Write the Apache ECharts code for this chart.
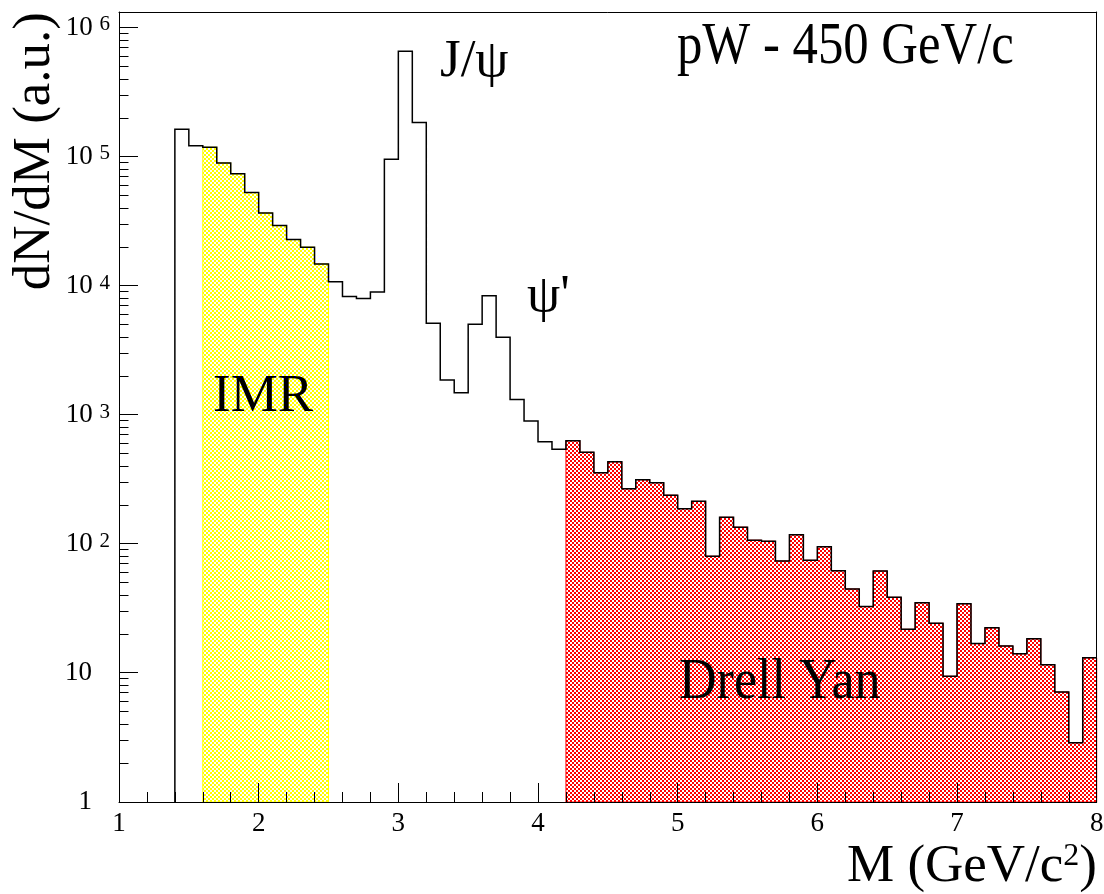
<!DOCTYPE html>
<html>
<head>
<meta charset="utf-8">
<script src="https://cdn.jsdelivr.net/npm/echarts@6/dist/echarts.min.js"></script>
<style>
  html, body { margin: 0; padding: 0; background: #fff; }
  #chart { width: 1104px; height: 894px; }
</style>
</head>
<body>
<div id="chart"></div>
<script>
// Dimuon invariant-mass spectrum, pW at 450 GeV/c (bins of 0.1 GeV/c^2)
const binWidth = 0.1;
const firstBinEdge = 1.4;
const counts = [
  164000, 122000, 119000, 90000, 74000, 53000, 36800, 29400, 22900, 20000,   // 1.4 - 2.4
  14800, 10800, 8300, 8000, 9000, 96000, 660000, 185000, 5140, 1870,          // 2.4 - 3.4
  1490, 5050, 8400, 4000, 1320, 900, 620, 542, 632, 514,                      // 3.4 - 4.4
  357, 434, 268, 315, 299, 239, 188, 214, 80.4, 161,                           // 4.4 - 5.4
  135, 107, 105, 73.8, 118, 74.7, 95.3, 62.1, 44.8, 32.7,                      // 5.4 - 6.4
  61.8, 38.6, 21.8, 35.1, 24.3, 9.43, 34.4, 16.9, 22.4, 16.2,                  // 6.4 - 7.4
  14.1, 18.4, 11.6, 7.12, 2.88, 13.1                                           // 7.4 - 8.0
];
// Mass windows that are shaded
const imrRange = [1.6, 2.5];
const drellYanRange = [4.2, 8.0];

// Axis ticks
const xTicks = [1, 2, 3, 4, 5, 6, 7, 8];
const yDecades = [1, 10, 100, 1000, 10000, 100000, 1000000];
const yMinorSteps = [2, 3, 4, 5, 6, 7, 8, 9];

const X_MIN = 1, X_MAX = 8, Y_MIN = 1, Y_MAX = 1.33e6;
const SERIF = '"Liberation Serif", "Times New Roman", Times, serif';

function binEdge(i) {
  return Math.round((firstBinEdge + i * binWidth) * 1000) / 1000;
}

// Fine hatch fill: 2-px checker of colour and white on a 4-px period
function hatchPattern(color) {
  const c = document.createElement('canvas');
  c.width = 4; c.height = 4;
  const g = c.getContext('2d');
  g.fillStyle = '#ffffff';
  g.fillRect(0, 0, 4, 4);
  g.fillStyle = color;
  g.fillRect(2, 0, 2, 2);
  g.fillRect(0, 2, 2, 2);
  return { image: c, repeat: 'repeat' };
}

function regionSeries(range, stroke, fill) {
  return {
    type: 'custom',
    coordinateSystem: 'cartesian2d',
    silent: true,
    z: 2,
    data: [range],
    renderItem(params, api) {
      const lo = api.value(0), hi = api.value(1);
      const pts = [api.coord([lo, Y_MIN])];
      counts.forEach((v, i) => {
        const a = binEdge(i), b = binEdge(i + 1);
        if (a < lo - 1e-6 || b > hi + 1e-6) return;
        pts.push(api.coord([a, v]), api.coord([b, v]));
      });
      pts.push(api.coord([hi, Y_MIN]));
      return {
        type: 'polygon',
        shape: { points: pts },
        style: { fill: fill, stroke: stroke, lineWidth: 1 }
      };
    }
  };
}

const outlineSeries = {
  type: 'custom',
  coordinateSystem: 'cartesian2d',
  silent: true,
  z: 3,
  data: [[firstBinEdge, Y_MIN]],
  renderItem(params, api) {
    const pts = [api.coord([api.value(0), api.value(1)])];
    counts.forEach((v, i) => {
      pts.push(api.coord([binEdge(i), v]), api.coord([binEdge(i + 1), v]));
    });
    return {
      type: 'polyline',
      shape: { points: pts },
      style: { stroke: '#000', lineWidth: 1.5, fill: 'none', lineJoin: 'miter' }
    };
  }
};

// Major and minor ticks of the logarithmic y axis (drawn inward)
const yTickData = [];
yDecades.forEach((d, k) => {
  yTickData.push([X_MIN, d, 1]);
  if (k < yDecades.length - 1) yMinorSteps.forEach(m => yTickData.push([X_MIN, d * m, 0]));
});
const yTickSeries = {
  type: 'custom',
  coordinateSystem: 'cartesian2d',
  silent: true,
  z: 6,
  data: yTickData,
  renderItem(params, api) {
    const p = api.coord([api.value(0), api.value(1)]);
    const len = api.value(2) ? 19 : 9.5;
    const y = Math.round(p[1] - 0.5) + 0.5;
    return {
      type: 'line',
      shape: { x1: p[0], y1: y, x2: p[0] + len, y2: y },
      style: { stroke: '#000', lineWidth: 1 }
    };
  }
};

const chart = echarts.init(document.getElementById('chart'), null, { renderer: 'canvas' });

chart.setOption({
  animation: false,
  backgroundColor: '#fff',
  grid: {
    left: 119, right: 7.3, top: 12, bottom: 92,
    containLabel: false, outerBoundsMode: 'none', show: false
  },
  xAxis: [{
    type: 'value', position: 'bottom', min: X_MIN, max: X_MAX, interval: 1, z: 5,
    axisLine: { onZero: false, lineStyle: { color: '#000', width: 1 } },
    axisTick: { inside: true, length: 19, lineStyle: { color: '#000', width: 1 } },
    minorTick: { show: true, splitNumber: 5, length: 10, lineStyle: { color: '#000', width: 1 } },
    splitLine: { show: false },
    axisLabel: {
      margin: 8, color: '#000', fontFamily: SERIF, fontSize: 27,
      formatter: v => xTicks.includes(Math.round(v)) ? String(Math.round(v)) : ''
    }
  }, {
    type: 'value', position: 'top', min: X_MIN, max: X_MAX, z: 5,
    axisLine: { onZero: false, lineStyle: { color: '#000', width: 1 } },
    axisTick: { show: false }, axisLabel: { show: false }, splitLine: { show: false }
  }],
  yAxis: [{
    type: 'log', logBase: 10, min: Y_MIN, max: Y_MAX, position: 'left', z: 5,
    axisLine: { onZero: false, lineStyle: { color: '#000', width: 1 } },
    axisTick: { show: false },
    minorTick: { show: false },
    splitLine: { show: false },
    axisLabel: {
      margin: 9, color: '#000', fontFamily: SERIF, fontSize: 27,
      formatter(v) {
        const e = Math.log10(v), r = Math.round(e);
        if (Math.abs(e - r) > 1e-6 || !yDecades.includes(Math.pow(10, r))) return '';
        if (r === 0) return '{p|1}';
        if (r === 1) return '{p|10}';
        return '{b|10 }{s|' + r + '}';
      },
      rich: {
        p: { fontFamily: SERIF, fontSize: 27, lineHeight: 27, color: '#000', padding: [0, 18, 0, 0] },
        b: { fontFamily: SERIF, fontSize: 27, lineHeight: 27, color: '#000' },
        s: { fontFamily: SERIF, fontSize: 21, lineHeight: 7, color: '#000', verticalAlign: 'top' }
      }
    }
  }, {
    type: 'value', position: 'right', min: 0, max: 1, z: 5,
    axisLine: { onZero: false, lineStyle: { color: '#000', width: 1 } },
    axisTick: { show: false }, axisLabel: { show: false }, splitLine: { show: false }
  }],
  series: [
    regionSeries(imrRange, '#ffff00', hatchPattern('#ffff00')),
    regionSeries(drellYanRange, '#ff0000', hatchPattern('#ff0000')),
    outlineSeries,
    yTickSeries
  ],
  graphic: [
    { type: 'text', x: 440, y: 62, z: 10, silent: true,
      style: { text: 'J/ψ', font: '53px ' + SERIF, fill: '#000', align: 'left', verticalAlign: 'middle' } },
    { type: 'text', x: 527, y: 297, z: 10, silent: true,
      style: { text: "ψ'", font: '53px ' + SERIF, fill: '#000', align: 'left', verticalAlign: 'middle' } },
    { type: 'text', x: 213, y: 397, z: 10, silent: true,
      style: { text: 'IMR', font: '53px ' + SERIF, fill: '#000', align: 'left', verticalAlign: 'middle' } },
    { type: 'text', x: 679, y: 683, z: 10, silent: true, scaleX: 0.93,
      style: { text: 'Drell Yan', font: '56px ' + SERIF, fill: '#000', align: 'left', verticalAlign: 'middle' } },
    { type: 'text', x: 677, y: 47, z: 10, silent: true, scaleX: 0.86,
      style: { text: 'pW - 450 GeV/c', font: '59px ' + SERIF, fill: '#000', align: 'left', verticalAlign: 'middle' } },
    { type: 'text', x: 35, y: 12, z: 10, silent: true, rotation: Math.PI / 2,
      style: { text: 'dN/dM (a.u.)', font: '53px ' + SERIF, fill: '#000', align: 'right', verticalAlign: 'middle' } },
    { type: 'text', x: 1097, y: 867, z: 10, silent: true,
      style: {
        text: '{m|M (GeV/c}{s|2}{m|)}', align: 'right', verticalAlign: 'middle',
        rich: {
          m: { fontFamily: SERIF, fontSize: 53, lineHeight: 53, fill: '#000' },
          s: { fontFamily: SERIF, fontSize: 32, lineHeight: 18, fill: '#000', verticalAlign: 'top' }
        }
      } }
  ]
});
</script>
</body>
</html>
